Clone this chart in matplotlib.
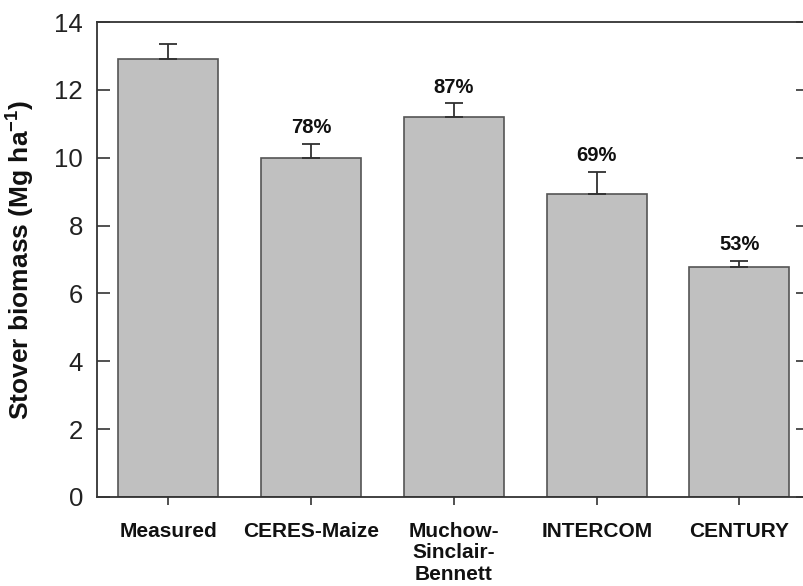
import matplotlib
matplotlib.use('Agg')
import matplotlib.pyplot as plt
import numpy as np

plt.rcParams['font.family'] = ['Liberation Sans', 'DejaVu Sans']
plt.rcParams['mathtext.fontset'] = 'custom'
plt.rcParams['mathtext.rm'] = 'Liberation Sans'
plt.rcParams['mathtext.bf'] = 'Liberation Sans:bold'

# datos
modelos = ['Measured', 'CERES-Maize', 'Muchow-\nSinclair-\nBennett', 'INTERCOM', 'CENTURY']
biomasa = [12.9, 10.0, 11.2, 8.92, 6.77]
error_sup = [0.45, 0.4, 0.4, 0.66, 0.2]
porcentaje = ['', '78%', '87%', '69%', '53%']
yticks = [0, 2, 4, 6, 8, 10, 12, 14]

fig = plt.figure(figsize=(8.04, 5.86), dpi=100)
ax = fig.add_axes([97/804, 1 - 497/586, (808-97)/804, (497-22)/586])

x = np.arange(len(modelos))
ax.bar(x, biomasa, width=0.7, color='#c0c0c0', edgecolor='#555555', linewidth=1.2, zorder=2)
ax.errorbar(x, biomasa, yerr=[np.zeros(len(x)), error_sup], fmt='none',
            ecolor='#303030', elinewidth=1.3, capsize=6.5, capthick=1.3, zorder=3)

for i in range(len(x)):
    if porcentaje[i]:
        ax.text(x[i], biomasa[i] + error_sup[i] + 0.2, porcentaje[i], ha='center', va='bottom',
                fontsize=14.5, fontweight='bold', color='#111111')

ax.set_xlim(-0.5, 4.48)
ax.set_ylim(0, 14)
ax.set_yticks(yticks)
ax.set_yticklabels([str(v) for v in yticks], fontsize=18.5, color='#222222')
ax.set_xticks(x)
ax.set_xticklabels(modelos, fontsize=15, fontweight='bold', color='#111111', linespacing=1.15)
ax.tick_params(axis='y', direction='in', length=9, width=1.2, color='#333333',
               left=True, right=True, pad=10)
ax.tick_params(axis='x', direction='out', length=6, width=1.2, color='#333333', pad=12)
for s in ax.spines.values():
    s.set_color('#333333')
    s.set_linewidth(1.3)

ax.set_ylabel(r'Stover biomass (Mg ha$^{\mathbf{-1}}$)', fontsize=19, fontweight='bold',
              color='#111111', labelpad=13)

plt.savefig('out.png', dpi=100)
